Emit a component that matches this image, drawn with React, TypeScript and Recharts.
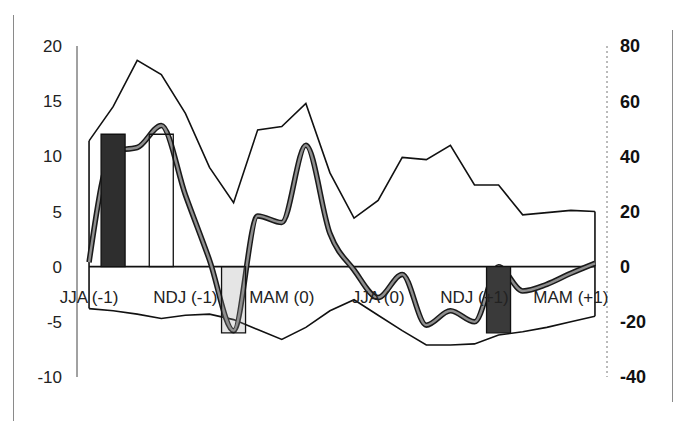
import { ComposedChart, Line, Bar, Cell, XAxis, YAxis, ReferenceLine } from 'recharts'

// 22 seasonal slots, labelled every fourth one
const slotLabels = [
  'JJA (-1)', '', '', '', 'NDJ (-1)', '', '', '', 'MAM (0)', '', '', '',
  'JJA (0)', '', '', '', 'NDJ (+1)', '', '', '', 'MAM (+1)', '',
]

const upper = [11.4, 14.5, 18.7, 17.4, 13.9, 9.0, 5.8, 12.4, 12.7, 14.8, 8.5, 4.4, 6.0, 9.9, 9.7, 11.0, 7.4, 7.4, 4.7, 4.9, 5.1, 5.0]
const lower = [-3.8, -4.0, -4.3, -4.7, -4.4, -4.3, -4.8, -5.7, -6.6, -5.5, -4.0, -3.0, -4.4, -5.8, -7.1, -7.1, -7.0, -6.2, -5.9, -5.5, -5.0, -4.5]
const mean = [0.4, 10.5, 10.8, 12.8, 6.5, 0.6, -5.8, 4.6, 4.0, 11.0, 3.0, -0.3, -2.8, -0.7, -5.3, -4.0, -5.0, 0.0, -2.2, -1.6, -0.6, 0.3]
const bars: (number | null)[] = [null, 12, null, 12, null, null, -6, null, null, null, null, null, null, null, null, null, null, -6, null, null, null, null]
const barFills: Record<number, string> = { 1: '#2e2e2e', 3: 'rgba(255,255,255,0)', 6: 'rgba(150,150,150,0.25)', 17: '#3a3a3a' }

const leftTicks = [-10, -5, 0, 5, 10, 15, 20]
const rightTicks = [-40, -20, 0, 20, 40, 60, 80]

const data = slotLabels.map((label, i) => ({
  slot: i,
  label,
  upper: upper[i],
  lower: lower[i],
  mean: mean[i],
  meanRight: mean[i] * 4,
  bar: bars[i],
}))

const W = 676
const H = 421
const TOP = 46
const BOTTOM = 43
const PLOT_H = H - TOP - BOTTOM - 1
const ZERO_Y = TOP + PLOT_H * (20 / 30)
const font = '"Liberation Sans", Arial, sans-serif'

const SeasonTick = (props: any) => {
  const text = slotLabels[props.payload?.value]
  if (!text) return <g />
  return (
    <text x={props.x} y={ZERO_Y + 30} dy="0.35em" textAnchor="middle" fontSize={17} fontFamily={font} fill="#222">
      {text}
    </text>
  )
}

export default function App() {
  const last = slotLabels.length - 1
  return (
    <div style={{ position: 'relative', width: W, height: H, background: '#fff' }}>
      <style>{'body{margin:0}'}</style>
      <div style={{ position: 'absolute', left: 13, top: 15, width: 1, height: 406, background: '#8a8a8a' }} />
      <div style={{ position: 'absolute', left: 672, top: 30, width: 1, height: 372, background: '#8a8a8a' }} />
      <ComposedChart
        width={W}
        height={H}
        data={data}
        margin={{ top: TOP, right: 0, bottom: BOTTOM, left: 0 }}
        barCategoryGap={0}
      >
        <XAxis
          dataKey="slot"
          height={1}
          axisLine={false}
          tickLine={false}
          interval={0}
          tick={(p: any) => <SeasonTick {...p} />}
        />
        <YAxis
          yAxisId="left"
          width={77}
          domain={[-10, 20]}
          allowDataOverflow
          ticks={leftTicks}
          tickLine={false}
          tickMargin={9}
          axisLine={{ stroke: '#444' }}
          tick={{ fontSize: 17, fontFamily: font, fill: '#222' }}
        />
        <YAxis
          yAxisId="right"
          orientation="right"
          width={69}
          domain={[-40, 80]}
          allowDataOverflow
          ticks={rightTicks}
          tickLine={false}
          tickMargin={7}
          axisLine={{ stroke: '#777', strokeDasharray: '2 3' }}
          tick={{ fontSize: 18, fontFamily: font, fill: '#111', fontWeight: 'bold' }}
        />
        <ReferenceLine
          yAxisId="left"
          segment={[{ x: 0, y: 0 }, { x: last, y: 0 }]}
          stroke="#111"
          strokeWidth={1.6}
        />
        <ReferenceLine
          yAxisId="left"
          segment={[{ x: 0, y: lower[0] }, { x: 0, y: upper[0] }]}
          stroke="#111"
          strokeWidth={1.6}
        />
        <ReferenceLine
          yAxisId="left"
          segment={[{ x: last, y: lower[last] }, { x: last, y: upper[last] }]}
          stroke="#111"
          strokeWidth={1.6}
        />
        {/* invisible twin on the right scale so the right axis gets its ticks */}
        <Line yAxisId="right" dataKey="meanRight" stroke="none" dot={false} isAnimationActive={false} />
        <Line yAxisId="left" type="linear" dataKey="upper" stroke="#111" strokeWidth={1.6} dot={false} isAnimationActive={false} />
        <Line yAxisId="left" type="linear" dataKey="lower" stroke="#111" strokeWidth={1.6} dot={false} isAnimationActive={false} />
        <Line yAxisId="left" type="monotone" dataKey="mean" stroke="#1a1a1a" strokeWidth={5.5} dot={false} isAnimationActive={false} />
        <Line yAxisId="left" type="monotone" dataKey="mean" stroke="#8e8e8e" strokeWidth={2.4} dot={false} isAnimationActive={false} />
        <Bar yAxisId="left" dataKey="bar" stroke="#111" strokeWidth={1.3} isAnimationActive={false} {...({ zIndex: 500 } as any)}>
          {data.map((d) => (
            <Cell key={d.slot} fill={barFills[d.slot] || 'none'} />
          ))}
        </Bar>
      </ComposedChart>
    </div>
  )
}
